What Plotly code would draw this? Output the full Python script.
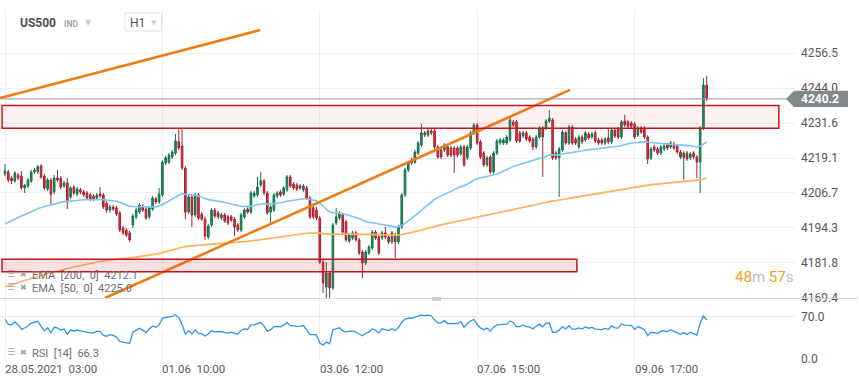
import plotly.graph_objects as go

# ---------------- data (US500, H1) ----------------
opens = [4213.5,4214.2,4212.0,4211.0,4213.1,4212.7,4208.5,4209.2,4211.0,4214.2,
         4214.2,4216.3,4212.7,4208.1,4211.3,4207.1,4212.0,4212.0,4209.2,4210.3,
         4205.3,4208.8,4206.3,4207.8,4207.1,4206.7,4206.0,4205.6,4204.9,4206.3,
         4206.0,4203.1,4200.6,4201.7,4201.4,4199.6,4194.2,4193.5,4192.5,4195.3,
         4198.2,4199.9,4202.1,4201.0,4198.2,4201.0,4204.6,4203.5,4206.0,4217.4,
         4217.7,4219.5,4220.9,4224.9,4223.4,4215.6,4199.9,4205.3,4198.9,4206.0,
         4199.2,4197.4,4191.0,4195.3,4200.6,4199.6,4197.8,4198.9,4198.2,4198.2,
         4197.4,4195.3,4193.5,4198.2,4201.0,4199.9,4205.6,4206.0,4209.5,4211.0,
         4206.7,4199.9,4200.6,4205.6,4207.1,4206.3,4207.8,4212.4,4209.9,4209.5,
         4209.2,4207.8,4208.5,4204.9,4201.4,4200.6,4197.8,4182.1,4173.2,4178.2,
         4172.9,4196.0,4197.8,4198.9,4196.4,4189.6,4190.7,4192.5,4190.0,4185.7,
         4181.8,4185.3,4187.1,4192.8,4191.0,4190.7,4192.5,4191.0,4189.3,4191.7,
         4189.3,4194.6,4206.0,4214.9,4218.4,4217.7,4220.9,4223.8,4228.1,4227.3,
         4228.8,4228.8,4223.1,4222.0,4222.0,4223.1,4222.7,4222.7,4222.7,4220.6,
         4223.1,4219.2,4222.7,4228.1,4230.9,4224.9,4220.9,4216.7,4219.5,4214.2,
         4220.9,4224.5,4224.5,4224.5,4225.6,4232.0,4232.0,4228.1,4227.0,4228.1,
         4226.6,4225.9,4223.1,4226.6,4229.8,4229.8,4232.3,4232.7,4220.9,4219.2,
         4222.0,4228.1,4224.5,4230.2,4225.9,4223.1,4226.6,4225.6,4227.7,4226.6,
         4228.1,4225.6,4225.6,4224.5,4226.3,4224.9,4229.1,4229.5,4226.6,4232.3,
         4232.0,4231.6,4231.3,4227.3,4229.8,4229.8,4226.6,4219.2,4223.1,4222.4,
         4220.9,4222.4,4223.8,4223.1,4224.1,4223.4,4221.3,4219.2,4220.9,4219.2,
         4220.9,4219.5,4217.7,4229.8,4245.1]
highs = [4217.0,4214.9,4212.7,4214.5,4213.8,4214.5,4209.9,4212.0,4214.9,4215.6,
         4216.7,4217.0,4213.5,4212.0,4212.0,4213.1,4214.9,4212.7,4211.0,4212.0,
         4209.2,4209.5,4208.8,4208.5,4207.8,4207.4,4206.7,4206.3,4206.7,4208.8,
         4206.7,4203.8,4202.4,4202.4,4202.1,4200.3,4194.9,4194.2,4193.2,4199.2,
         4201.4,4203.1,4202.8,4201.7,4202.1,4205.6,4205.3,4208.5,4218.4,4219.9,
         4220.9,4222.0,4227.7,4229.8,4229.8,4216.3,4206.0,4206.0,4206.7,4206.7,
         4199.9,4198.2,4195.7,4201.4,4201.4,4200.3,4199.6,4199.6,4198.9,4198.9,
         4198.2,4196.0,4199.6,4201.4,4201.7,4207.4,4207.4,4212.4,4214.2,4211.7,
         4207.4,4202.4,4206.7,4207.4,4207.8,4209.2,4213.1,4213.1,4210.6,4210.3,
         4209.9,4209.9,4209.2,4205.6,4202.1,4201.7,4198.5,4182.8,4182.1,4178.9,
         4196.0,4201.4,4200.3,4199.6,4197.1,4192.5,4193.2,4193.2,4190.7,4186.4,
         4186.4,4188.2,4193.5,4193.5,4191.7,4193.2,4194.6,4191.7,4193.2,4192.5,
         4195.3,4206.7,4215.6,4218.1,4219.2,4222.0,4225.2,4231.3,4228.8,4229.5,
         4229.5,4229.5,4223.8,4222.7,4224.5,4223.8,4223.4,4223.4,4223.4,4223.8,
         4223.8,4223.8,4228.8,4231.6,4231.6,4225.6,4221.6,4219.9,4220.2,4221.6,
         4225.9,4226.3,4226.3,4227.3,4233.8,4232.7,4232.7,4228.8,4228.8,4228.8,
         4227.3,4226.6,4227.3,4230.5,4230.5,4233.0,4236.2,4233.4,4221.6,4223.1,
         4229.1,4228.8,4230.9,4230.9,4226.6,4227.3,4227.3,4228.8,4228.4,4228.4,
         4228.8,4226.3,4226.3,4226.6,4229.5,4229.8,4229.8,4230.2,4232.7,4234.5,
         4232.7,4232.3,4232.0,4230.5,4230.5,4230.5,4227.3,4223.1,4223.8,4223.1,
         4223.8,4224.1,4224.5,4225.2,4224.9,4224.1,4222.0,4221.6,4221.6,4221.3,
         4221.6,4220.2,4230.5,4247.6,4248.3]
lows = [4212.7,4210.6,4209.9,4210.3,4211.3,4207.8,4206.7,4208.5,4210.3,4213.5,
        4213.5,4211.7,4207.8,4207.4,4202.1,4206.3,4210.6,4208.1,4208.5,4201.0,
        4204.6,4206.0,4205.6,4206.3,4205.3,4204.2,4203.8,4203.8,4204.2,4204.9,
        4201.0,4199.6,4199.6,4200.3,4198.5,4192.8,4191.7,4191.0,4189.3,4194.2,
        4197.4,4199.2,4199.9,4197.1,4197.4,4200.3,4202.8,4202.8,4205.3,4216.7,
        4217.0,4218.8,4220.2,4222.0,4214.9,4197.4,4199.2,4194.6,4198.2,4197.1,
        4196.7,4190.0,4190.3,4194.6,4197.8,4197.4,4197.1,4196.0,4195.3,4196.4,
        4191.4,4192.8,4192.8,4197.4,4199.2,4199.2,4204.9,4205.3,4208.8,4206.0,
        4198.9,4195.3,4199.9,4204.9,4205.3,4205.6,4207.1,4208.5,4207.8,4207.4,
        4207.8,4207.1,4204.2,4197.4,4197.4,4197.1,4181.4,4171.1,4169.3,4169.3,
        4172.2,4195.3,4197.1,4192.1,4189.3,4188.9,4190.0,4189.3,4184.6,4176.4,
        4181.1,4184.6,4186.4,4190.0,4184.6,4190.0,4190.3,4188.5,4188.5,4183.6,
        4188.5,4193.9,4205.3,4214.2,4216.7,4217.0,4220.2,4223.1,4226.6,4226.6,
        4227.3,4222.4,4218.8,4218.8,4221.3,4219.5,4219.5,4213.8,4219.5,4219.9,
        4216.0,4218.4,4222.0,4227.3,4223.8,4218.8,4216.0,4216.0,4213.5,4213.5,
        4220.2,4223.8,4223.8,4223.8,4224.9,4230.2,4224.5,4224.5,4226.3,4225.2,
        4224.5,4222.0,4222.4,4225.9,4212.4,4229.1,4231.6,4218.4,4218.4,4205.3,
        4221.3,4223.8,4223.8,4223.8,4223.8,4222.4,4224.1,4224.9,4225.6,4225.9,
        4224.5,4223.8,4223.8,4223.8,4224.1,4224.1,4226.3,4225.9,4225.9,4230.2,
        4229.8,4229.8,4225.9,4226.6,4227.7,4225.9,4217.0,4218.4,4221.3,4220.2,
        4220.2,4221.6,4222.0,4222.4,4222.0,4220.6,4218.8,4211.3,4218.1,4218.4,
        4218.8,4212.0,4206.7,4229.1,4239.4]
closes = [4214.5,4211.3,4211.0,4213.8,4212.0,4208.5,4209.5,4211.3,4214.2,4214.9,
          4216.0,4212.4,4208.5,4211.3,4206.3,4212.0,4211.3,4208.8,4210.3,4203.5,
          4208.5,4206.7,4208.1,4207.1,4206.0,4204.9,4204.6,4204.6,4206.0,4205.6,
          4201.7,4200.6,4201.7,4201.0,4199.2,4193.5,4192.5,4191.7,4190.0,4198.5,
          4200.6,4202.4,4200.6,4197.8,4201.4,4204.9,4203.5,4206.3,4217.7,4219.2,
          4220.2,4221.3,4225.2,4222.7,4215.6,4199.9,4205.3,4198.9,4206.0,4197.8,
          4197.4,4191.4,4194.9,4200.6,4198.5,4198.2,4198.9,4196.7,4196.0,4197.1,
          4194.6,4193.5,4198.9,4200.6,4199.9,4206.7,4206.7,4208.8,4211.0,4206.7,
          4199.6,4201.7,4206.0,4206.7,4206.0,4208.5,4212.4,4209.2,4208.5,4208.1,
          4208.5,4209.2,4204.9,4198.2,4198.2,4197.8,4182.1,4174.7,4178.2,4172.9,
          4195.3,4198.2,4199.6,4192.8,4190.0,4191.7,4192.5,4190.0,4185.3,4181.8,
          4185.7,4187.5,4192.8,4190.7,4185.3,4192.5,4191.0,4189.3,4192.5,4189.3,
          4194.6,4206.0,4214.9,4217.4,4217.4,4221.3,4224.5,4228.1,4227.3,4228.8,
          4228.1,4223.1,4219.5,4219.5,4223.8,4220.2,4220.2,4220.2,4220.2,4223.1,
          4216.7,4223.1,4228.1,4230.9,4224.5,4219.5,4216.7,4219.2,4214.2,4220.9,
          4225.2,4225.6,4225.6,4226.6,4232.7,4230.9,4225.2,4225.2,4228.1,4225.9,
          4225.2,4223.1,4226.6,4229.8,4226.6,4232.3,4233.4,4219.2,4219.2,4222.4,
          4228.4,4224.5,4230.2,4224.5,4224.5,4226.6,4224.9,4228.1,4226.3,4227.7,
          4225.2,4224.5,4224.5,4225.9,4224.9,4229.1,4227.0,4226.6,4232.0,4230.9,
          4230.5,4230.5,4226.6,4229.8,4228.4,4226.6,4218.8,4222.4,4222.0,4220.9,
          4223.1,4223.4,4222.7,4224.5,4222.7,4221.3,4219.5,4220.9,4218.8,4220.6,
          4219.5,4217.7,4229.8,4245.1,4240.2]

tick_index = [0, 48, 96, 144, 192]
tick_labels = ["28.05.2021  03:00", "01.06  10:00", "03.06  12:00", "07.06  15:00", "09.06  17:00"]
price_ticks = [4256.5, 4244.0, 4231.6, 4219.1, 4206.7, 4194.3, 4181.8, 4169.4]
rsi_ticks = [0.0, 70.0]

# indicator seeds
ema50_seed = 4194.9
ema200_seed = 4172.9
rsi_seed_gain, rsi_seed_loss = 1.2, 0.62

# drawn objects (index, price)
trend1_x = [-1.5, 77.8]
trend1_y = [4240.5, 4264.7]
trend2_x = [30.5, 172.3]
trend2_y = [4169.3, 4243.4]
zone_hi = dict(x=[-0.9, 236.0], y=[4229.7, 4237.8])
zone_lo = dict(x=[-0.9, 174.4], y=[4178.7, 4183.1])
last_price = 4240.2
legend_ema200 = "EMA  [200,  0]  4212.1"
legend_ema50 = "EMA  [50,  0]  4225.0"
legend_rsi = "RSI  [14]  66.3"


def ema(vals, n, seed):
    a = 2.0 / (n + 1)
    e = seed
    out = []
    for v in vals:
        e = e + a * (v - e)
        out.append(e)
    return out


def rsi(vals, n, g0, l0):
    ag, al = g0, l0
    prev = vals[0]
    out = []
    for v in vals:
        d = v - prev
        prev = v
        ag = (ag * (n - 1) + max(d, 0)) / n
        al = (al * (n - 1) + max(-d, 0)) / n
        out.append(100 - 100 / (1 + ag / al))
    return out


xs = list(range(len(closes)))
ema50 = ema(closes, 50, ema50_seed)
ema200 = ema(closes, 200, ema200_seed)
rsi14 = rsi(closes, 14, rsi_seed_gain, rsi_seed_loss)

W, H = 859, 385
PW = 795  # plot width in px
FONT = "Roboto"


def px(x):
    return x / PW


def py(y):
    return 1 - y / H


fig = go.Figure()
fig.add_trace(go.Scatter(x=xs, y=ema200, mode="lines", line=dict(color="#ffb05c", width=1.7),
                         hoverinfo="skip", showlegend=False))
fig.add_trace(go.Scatter(x=xs, y=ema50, mode="lines", line=dict(color="#7cc6ee", width=1.6),
                         hoverinfo="skip", showlegend=False))
fig.add_trace(go.Candlestick(
    x=xs, open=opens, high=highs, low=lows, close=closes,
    increasing=dict(fillcolor="#22935f", line=dict(color="#12704a", width=1)),
    decreasing=dict(fillcolor="#de3143", line=dict(color="#a8202d", width=1)),
    whiskerwidth=0, showlegend=False))
fig.add_trace(go.Scatter(x=trend1_x, y=trend1_y, mode="lines",
                         line=dict(color="#f07a14", width=2.6), showlegend=False, hoverinfo="skip"))
fig.add_trace(go.Scatter(x=trend2_x, y=trend2_y, mode="lines",
                         line=dict(color="#f07a14", width=2.6), showlegend=False, hoverinfo="skip"))
fig.add_trace(go.Scatter(x=xs, y=rsi14, mode="lines", xaxis="x2", yaxis="y2",
                         line=dict(color="#2f95ea", width=1.3), showlegend=False, hoverinfo="skip"))

shapes = []
for z, fc in ((zone_hi, "rgba(232,90,90,0.08)"), (zone_lo, "rgba(220,80,80,0.17)")):
    shapes.append(dict(type="rect", xref="x", yref="y", x0=z["x"][0], x1=z["x"][1],
                       y0=z["y"][0], y1=z["y"][1], fillcolor=fc,
                       line=dict(color="#c8141c", width=1.5), layer="above"))
# last price line
shapes.append(dict(type="line", xref="paper", yref="y", x0=0, x1=px(788), y0=last_price, y1=last_price,
                   line=dict(color="#8d979b", width=1)))
# price tag
th = 2.85
shapes.append(dict(type="path", xref="paper", yref="y",
                   path=f"M {px(786)} {last_price} L {px(794)} {last_price+th} L {px(848)} {last_price+th} "
                        f"L {px(848)} {last_price-th} L {px(794)} {last_price-th} Z",
                   fillcolor="#7f898d", line=dict(width=0)))
# pane separator
shapes.append(dict(type="line", xref="paper", yref="paper", x0=0, x1=px(858), y0=py(298.5), y1=py(298.5),
                   line=dict(color="#d6d6d6", width=1)))
shapes.append(dict(type="rect", xref="paper", yref="paper", x0=px(432), x1=px(441), y0=py(301), y1=py(297),
                   fillcolor="#cfcfcf", line=dict(width=0)))
# H1 selector box
shapes.append(dict(type="rect", xref="paper", yref="paper", x0=px(125), x1=px(161.5), y0=py(31), y1=py(13),
                   fillcolor="white", line=dict(color="#dfe2e5", width=1)))

ann = []
def text(x, y, t, size, color, anchor="left", bold=False, family=FONT):
    ann.append(dict(xref="paper", yref="paper", x=px(x), y=py(y), text=f"<b>{t}</b>" if bold else t,
                    showarrow=False, xanchor=anchor, yanchor="middle",
                    font=dict(family=family, size=size, color=color)))

text(18, 23, "US500", 12, "#4a5056", bold=True)
text(62, 24, "IND", 8.5, "#a0a5aa", bold=True)
text(83, 22, "▼", 8, "#c9ccd0", family="DejaVu Sans")
text(128, 23, "H1", 12, "#4a5056")
text(149, 23, "▼", 7, "#c9ccd0", family="DejaVu Sans")
text(5, 274, "☰", 9, "#a2a2a2", family="DejaVu Sans")
text(18, 274, "✖", 8, "#a2a2a2", family="DejaVu Sans")
text(30, 275, legend_ema200, 11, "#6d6d6d")
text(5, 287, "☰", 9, "#a2a2a2", family="DejaVu Sans")
text(18, 287, "✖", 8, "#a2a2a2", family="DejaVu Sans")
text(30, 288, legend_ema50, 11, "#6d6d6d")
text(5, 352, "☰", 9, "#a2a2a2", family="DejaVu Sans")
text(18, 352, "✖", 8, "#a2a2a2", family="DejaVu Sans")
text(30, 353, legend_rsi, 11, "#6d6d6d")
text(733, 277, '<span style="color:#f4a020">48</span><span style="color:#b9bdc1">m</span> '
               '<span style="color:#f4a020">57</span><span style="color:#b9bdc1">s</span>', 15, "#b9bdc1")
ann.append(dict(xref="paper", yref="y", x=px(799), y=last_price, text="<b>4240.2</b>", showarrow=False,
                xanchor="left", yanchor="middle", font=dict(family=FONT, size=12, color="white")))
for i, lab in zip(tick_index, tick_labels):
    ann.append(dict(xref="x", yref="paper", x=i, y=py(369), text=lab, showarrow=False,
                    xanchor="left", yanchor="middle", xshift=-2,
                    font=dict(family=FONT, size=11.5, color="#555a5e")))

x_rng = [-5 / 3.279, (PW - 5) / 3.279]
fig.update_layout(
    width=W, height=H, margin=dict(l=0, r=W - PW, t=0, b=0),
    paper_bgcolor="white", plot_bgcolor="white", showlegend=False,
    font=dict(family=FONT),
    xaxis=dict(domain=[0, 1], range=x_rng, anchor="y", tickvals=tick_index, showticklabels=False,
               showgrid=True, gridcolor="#efefef", zeroline=False, rangeslider=dict(visible=False),
               showline=False, fixedrange=True),
    xaxis2=dict(domain=[0, 1], range=x_rng, anchor="y2", tickvals=tick_index, showticklabels=False,
                showgrid=True, gridcolor="#efefef", zeroline=False, showline=False, matches="x"),
    yaxis=dict(domain=[py(298), py(10)], range=[4275.4 - 0.356 * 298, 4275.4 - 0.356 * 10],
               side="right", tickvals=price_ticks, ticktext=[f"{v:.1f}" for v in price_ticks],
               showgrid=True, gridcolor="#efefef", zeroline=False, ticks="", ticklabelstandoff=5,
               tickfont=dict(family=FONT, size=12, color="#50565a"), automargin=False),
    yaxis2=dict(domain=[py(359), py(300)], range=[0, 98.3], side="right", anchor="x2",
                tickvals=rsi_ticks, ticktext=[f"{v:.1f}" for v in rsi_ticks],
                showgrid=True, gridcolor="#e6e6e6", zeroline=False, ticks="", ticklabelstandoff=5,
                tickfont=dict(family=FONT, size=12, color="#50565a"), automargin=False),
    shapes=shapes, annotations=ann,
)
fig.write_html("out.html", config={"displayModeBar": False},
               post_script="document.body.style.margin='0';document.body.style.overflow='hidden';")
